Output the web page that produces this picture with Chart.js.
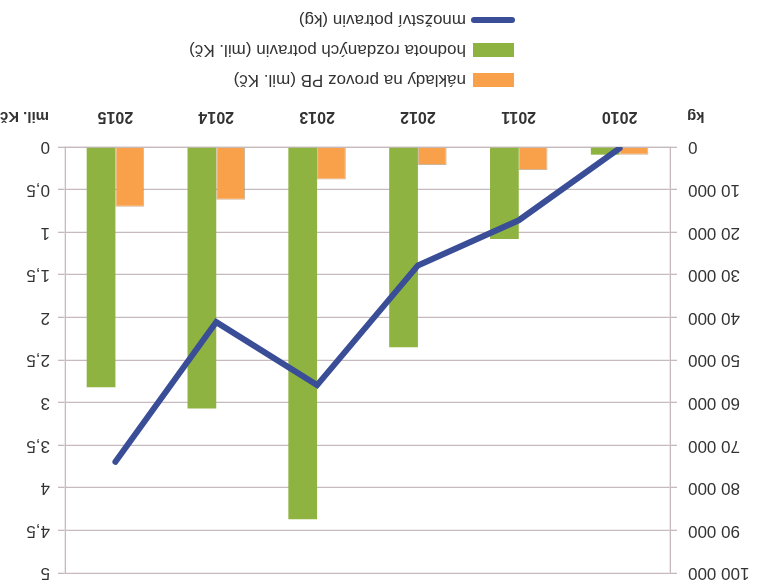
<!DOCTYPE html>
<html>
<head>
<meta charset="utf-8">
<script src="https://cdn.jsdelivr.net/npm/chart.js@4.4.1/dist/chart.umd.min.js"></script>
<style>
  html, body { margin: 0; padding: 0; background: #fff; }
  /* the reference picture is upside down, so the whole chart is turned */
  #wrap { width: 757px; height: 585px; transform: rotate(180deg); }
</style>
</head>
<body>
<div id="wrap"><canvas id="myChart"></canvas></div>
<script>
// DATA
const years = ['2010', '2011', '2012', '2013', '2014', '2015'];
const naklady = [0.09, 0.27, 0.21, 0.38, 0.62, 0.70];        // mil. Kč
const hodnota = [0.09, 1.08, 2.35, 4.37, 3.07, 2.82];        // mil. Kč
const mnozstvi = [300, 17200, 27800, 55900, 41100, 73900];   // kg
const kgMax = 100000;
const kgStep = 10000;
const milMax = 5;
const milStep = 0.5;

const legendNames = [
    'množství potravin (kg)',
    'náklady na provoz PB (mil. Kč)',
    'hodnota rozdaných potravin (mil. Kč)'
];

const blue = '#3a4d97';
const orange = '#f9a04b';
const green = '#8fb341';
const gridColor = '#c6babe';
const textColor = '#333333';
const fontFamily = '"Liberation Sans", Arial, sans-serif';

//AXIS TITLES + LEGEND STACKED UNDER THE CHART
const extras = {
    id: 'extras',
    afterDraw(chart) {
        const c = chart.ctx;
        const area = chart.chartArea;
        c.save();
        c.fillStyle = textColor;
        c.textBaseline = 'middle';
        c.font = 'bold 15px ' + fontFamily;
        c.textAlign = 'right';
        c.fillText('kg', area.left - 17, 469);
        c.textAlign = 'left';
        c.fillText('mil. Kč', area.right + 16, 469);

        const rows = [1, 2, 0];
        const rowY = [505, 535, 565];
        c.font = '17px ' + fontFamily;
        rows.forEach((dsIndex, i) => {
            const ds = chart.data.datasets[dsIndex];
            const y = rowY[i];
            if (ds.type === 'line') {
                c.strokeStyle = ds.borderColor;
                c.lineWidth = 6;
                c.lineCap = 'round';
                c.beginPath();
                c.moveTo(245, y);
                c.lineTo(283, y);
                c.stroke();
            } else {
                c.fillStyle = ds.backgroundColor;
                c.fillRect(243, y - 7, 41, 14);
            }
            c.fillStyle = textColor;
            c.textAlign = 'left';
            c.fillText(ds.label, 291, y);
        });
        c.restore();
    }
};

let ctx = document.getElementById('myChart').getContext('2d');
new Chart(ctx, {
    data: {
        labels: years,
        datasets: [{
            type: 'line',
            label: legendNames[0],
            data: mnozstvi,
            yAxisID: 'kg',
            borderColor: blue,
            borderWidth: 6,
            borderCapStyle: 'round',
            tension: 0,
            pointRadius: 0,
            order: 0
        },
        {
            type: 'bar',
            label: legendNames[1],
            data: naklady,
            yAxisID: 'mil',
            backgroundColor: orange,
            borderColor: 'rgba(170,120,70,0.55)',
            borderWidth: 1,
            categoryPercentage: 0.57,
            barPercentage: 1.0,
            order: 1
        },
        {
            type: 'bar',
            label: legendNames[2],
            data: hodnota,
            yAxisID: 'mil',
            backgroundColor: green,
            categoryPercentage: 0.57,
            barPercentage: 1.0,
            order: 1
        }]
    },
    options: {
        responsive: true,
        maintainAspectRatio: false,
        animation: false,
        layout: { padding: { top: 12, left: 0, right: 0, bottom: 0 } },
        plugins: {
            legend: { display: false },
            tooltip: { enabled: false }
        },
        scales: {
            x: {
                grid: { display: false, drawTicks: false },
                border: { display: true, color: gridColor, width: 1.3 },
                ticks: {
                    padding: 21,
                    color: textColor,
                    font: { family: fontFamily, size: 16, weight: 'bold' }
                },
                afterFit: (scale) => { scale.height = 147; }
            },
            kg: {
                position: 'left',
                min: 0,
                max: kgMax,
                ticks: {
                    stepSize: kgStep,
                    padding: 11,
                    color: textColor,
                    font: { family: fontFamily, size: 17 },
                    callback: (v) => String(v).replace(/\B(?=(\d{3})+(?!\d))/g, ' ')
                },
                grid: { color: gridColor, lineWidth: 1.3, tickLength: 7 },
                border: { color: gridColor, width: 1.3 },
                afterFit: (scale) => {
                    scale.width = 87;
                    scale.paddingTop = 0;
                    scale.paddingBottom = 0;
                }
            },
            mil: {
                position: 'right',
                min: 0,
                max: milMax,
                ticks: {
                    stepSize: milStep,
                    padding: 8,
                    color: textColor,
                    font: { family: fontFamily, size: 17 },
                    callback: (v) => String(v).replace('.', ',')
                },
                grid: { drawOnChartArea: false, color: gridColor, lineWidth: 1.3, tickLength: 7 },
                border: { color: gridColor, width: 1.3 },
                afterFit: (scale) => {
                    scale.width = 65;
                    scale.paddingTop = 0;
                    scale.paddingBottom = 0;
                }
            }
        }
    },
    plugins: [extras]
});
</script>
</body>
</html>
